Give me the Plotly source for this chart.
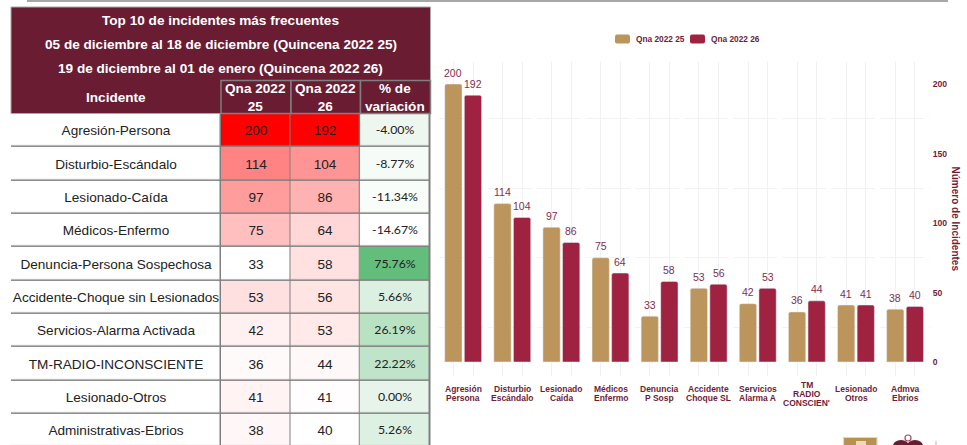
import plotly.graph_objects as go

incidentes = ["Agresión-Persona", "Disturbio-Escándalo", "Lesionado-Caída", "Médicos-Enfermo",
              "Denuncia-Persona Sospechosa", "Accidente-Choque sin Lesionados", "Servicios-Alarma Activada",
              "TM-RADIO-INCONSCIENTE", "Lesionado-Otros", "Administrativas-Ebrios"]
qna25 = [200, 114, 97, 75, 33, 53, 42, 36, 41, 38]
qna26 = [192, 104, 86, 64, 58, 56, 53, 44, 41, 40]
variacion = [-4.00, -8.77, -11.34, -14.67, 75.76, 5.66, 26.19, 22.22, 0.00, 5.26]
etiquetas = ["Agresión<br>Persona", "Disturbio<br>Escándalo", "Lesionado<br>Caída", "Médicos<br>Enfermo",
             "Denuncia<br>P Sosp", "Accidente<br>Choque SL", "Servicios<br>Alarma A",
             "TM<br>RADIO<br>CONSCIEN'", "Lesionado<br>Otros", "Admva<br>Ebrios"]
titulos = ["Top 10 de incidentes más frecuentes",
           "05 de diciembre al 18 de diciembre (Quincena 2022 25)",
           "19 de diciembre al 01 de enero (Quincena 2022 26)"]
encabezados = ["Incidente", "Qna 2022<br>25", "Qna 2022<br>26", "% de<br>variación"]
serie25 = "Qna 2022 25"
serie26 = "Qna 2022 26"
yticks = [0, 50, 100, 150, 200]
ygrid = [25, 75, 125, 175]

W, H = 967, 445
def px(x): return x / W
def py(y): return 1 - y / H

GUINDA = "#691c32"
TXT = "#6f1d3a"
BORDE = "#7f7f7f"
ORO = "#bc955c"
VINO = "#9f2241"
ETQ = "#7d3050"
idx = list(range(len(qna25)))
filas = list(range(len(qna25) + 1))
bordes_col = [0, 210, 279.5, 349, 419]
centros_col = [(a + b) / 2 for a, b in zip(bordes_col, bordes_col[1:])]

fig = go.Figure()
ROJO = [[0, "#ffffff"], [1, "#ff0000"]]
VERDE = [[0, "#ffffff"], [1, "#63be7b"]]
BLANCO = [[0, "#ffffff"], [1, "#ffffff"]]


def columna(n, valores, textos, escala, familia, talla):
    fig.add_trace(go.Heatmap(
        x=bordes_col[n:n + 2], y=filas, z=[[v] for v in valores], text=[[t] for t in textos],
        texttemplate="%{text}", textfont=dict(family=familia, size=talla, color="#222222"),
        colorscale=escala, showscale=False, xgap=1.5, ygap=1.5, hoverinfo="skip",
        xaxis="x2", yaxis="y2"))


columna(0, [0] * 10, incidentes, BLANCO, "Liberation Sans", 13.6)
columna(1, qna25, qna25, ROJO, "Liberation Sans", 13.6)
columna(2, qna26, qna26, ROJO, "Liberation Sans", 13.6)
columna(3, variacion, [f"{v:.2f}%" for v in variacion], VERDE, "Lato", 12.3)

fig.add_trace(go.Bar(name=serie25, x=idx, y=qna25, marker_color=ORO, width=0.352, offset=-0.377,
                     showlegend=False))
fig.add_trace(go.Bar(name=serie26, x=idx, y=qna26, marker_color=VINO, width=0.352, offset=0.022,
                     showlegend=False))


def rp(x0, y0, x1, y1, fill, line=None, lw=0, tipo="rect", layer="above"):
    return dict(type=tipo, xref="paper", yref="paper", x0=px(x0), x1=px(x1), y0=py(y1), y1=py(y0),
                fillcolor=fill, line=dict(color=line or fill, width=lw), layer=layer)


def muestra(x0, y0, x1, y1, fill, r=2):
    p = (f"M {px(x0 + r)} {py(y0)} L {px(x1 - r)} {py(y0)} Q {px(x1)} {py(y0)} {px(x1)} {py(y0 + r)} "
         f"L {px(x1)} {py(y1 - r)} Q {px(x1)} {py(y1)} {px(x1 - r)} {py(y1)} "
         f"L {px(x0 + r)} {py(y1)} Q {px(x0)} {py(y1)} {px(x0)} {py(y1 - r)} "
         f"L {px(x0)} {py(y0 + r)} Q {px(x0)} {py(y0)} {px(x0 + r)} {py(y0)} Z")
    return dict(type="path", xref="paper", yref="paper", path=p, fillcolor=fill, line=dict(width=0))


shapes = [
    rp(11, 113, 430.5, 445, BORDE, layer="below"),
    rp(11, 7, 430.5, 113.5, GUINDA, "#a8a8a8", 1),
    rp(221, 80.5, 291, 113.5, GUINDA, BORDE, 1.5),
    rp(291, 80.5, 360.5, 113.5, GUINDA, BORDE, 1.5),
    rp(360.5, 80.5, 430.5, 113.5, GUINDA, BORDE, 1.5),
    dict(type="line", xref="paper", yref="paper", x0=px(27), x1=px(948), y0=py(1), y1=py(1),
         line=dict(color="#8a8a8a", width=1.5)),
    rp(843.5, 437.5, 877, 446, "#b8914f", "#e2d5bd", 1.2),
    rp(856, 441, 866, 446, "#ead9bd"),
    rp(893, 440, 909, 452, GUINDA, tipo="circle"),
    rp(907, 440, 923, 452, GUINDA, tipo="circle"),
    rp(905, 435, 911, 441, "white", "#a04a60", 1.2, tipo="circle"),
    rp(935.5, 441, 936.5, 445, "#d8a8b4"),
    muestra(615, 34.5, 630, 43.5, ORO),
    muestra(690, 34.5, 705, 43.5, VINO),
]
annotations = []
for t, yy in zip(titulos, [20.5, 44.5, 68.5]):
    annotations.append(dict(text=f"<b>{t}</b>", xref="paper", yref="paper", x=px(220.5), y=py(yy),
                            showarrow=False, xanchor="center", yanchor="middle",
                            font=dict(family="Liberation Sans", size=13.6, color="white")))
for c, e in zip(centros_col, encabezados):
    annotations.append(dict(text=f"<b>{e}</b>", xref="x2", yref="paper", x=c, y=py(97),
                            showarrow=False, xanchor="center", yanchor="middle", align="center",
                            font=dict(family="Liberation Sans", size=13.6, color="white")))
for i, e in zip(idx, etiquetas):
    partes = e.split("<br>")
    for j, parte in enumerate(partes):
        annotations.append(dict(text=f"<b>{parte}</b>", xref="x", yref="paper", x=i,
                                y=py(393.5 + (j - (len(partes) - 1) / 2) * 9),
                                showarrow=False, xanchor="center", yanchor="middle",
                                font=dict(family="Liberation Sans", size=8.5, color=TXT)))
for i, a, b in zip(idx, qna25, qna26):
    for d, v in ((-0.2, a), (0.2, b)):
        annotations.append(dict(text=str(v), xref="x", yref="y", x=i + d, y=v, yshift=3.5,
                                showarrow=False, xanchor="center", yanchor="bottom",
                                font=dict(family="Liberation Sans", size=10.5, color=ETQ)))
for nombre, x in ((serie25, 635), (serie26, 710)):
    annotations.append(dict(text=f"<b>{nombre}</b>", xref="paper", yref="paper", x=px(x), y=py(39),
                            showarrow=False, xanchor="left", yanchor="middle", xshift=-1,
                            font=dict(family="Liberation Sans", size=8.3, color=TXT)))
annotations.append(dict(text="<b>Número de Incidentes</b>", xref="paper", yref="paper", x=px(955.5), y=py(219),
                        textangle=90, showarrow=False, xanchor="center", yanchor="middle",
                        font=dict(family="Liberation Sans", size=10, color=TXT)))

centros = [i + d for i in idx for d in (-0.2, 0.2)]
fig.update_layout(
    width=W, height=H, margin=dict(l=0, r=0, t=0, b=0),
    paper_bgcolor="white", plot_bgcolor="rgba(0,0,0,0)",
    barmode="overlay", barcornerradius=2, showlegend=False,
    shapes=shapes, annotations=annotations,
    xaxis=dict(domain=[px(438.7), px(929.7)], range=[-0.5, 9.5], showticklabels=False, zeroline=False,
               tickmode="array", tickvals=[], showgrid=False, showline=False,
               minor=dict(tickmode="array", tickvals=centros, showgrid=True, gridcolor="#f1f1f1", gridwidth=1, ticks="")),
    yaxis=dict(domain=[py(376), py(62)], range=[-10.07, 215.9], side="right", anchor="x", zeroline=False,
               tickmode="array", tickvals=yticks, showgrid=False, showline=False, ticks="",
               ticklabelposition="outside", ticklabelstandoff=2,
               tickfont=dict(family="Liberation Sans", size=8.6, color=TXT, weight="bold"),
               minor=dict(tickmode="array", tickvals=ygrid, showgrid=True, gridcolor="#f3f3f3", gridwidth=1,
                          griddash="44px,5px", ticks="")),
    xaxis2=dict(domain=[px(11), px(430)], range=[0, 419], anchor="y2", visible=False, fixedrange=True),
    yaxis2=dict(domain=[0, py(113)], range=[9.94, -0.025], anchor="x2", visible=False, fixedrange=True),
)
fig.write_html("out.html", config=dict(displayModeBar=False),
               post_script="document.body.style.margin='0';")
